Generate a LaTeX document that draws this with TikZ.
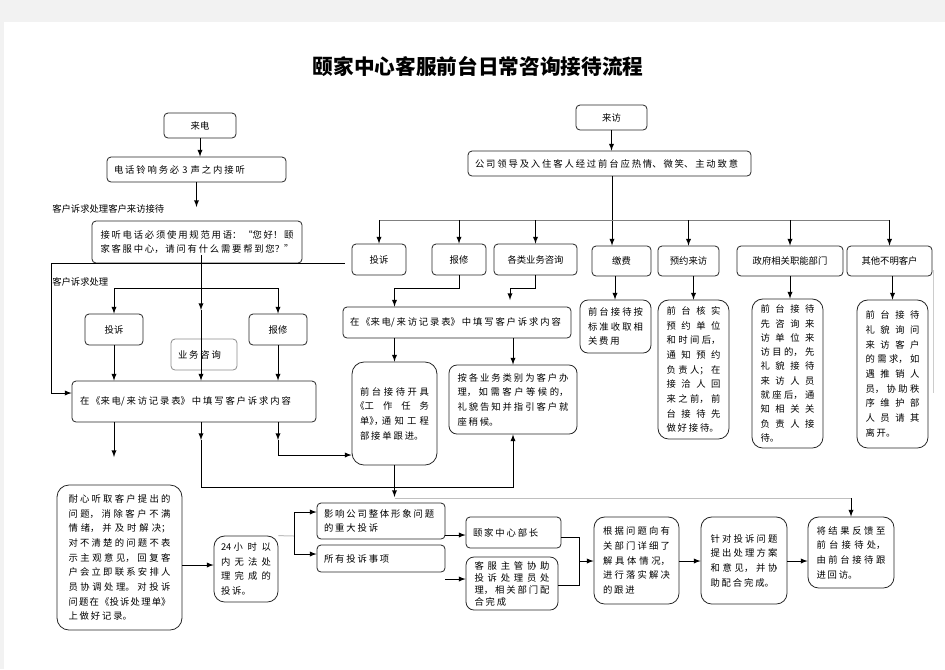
\documentclass[tikz,border=0pt]{standalone}
\usepackage{fontspec}
\setmainfont{Noto Sans CJK SC}
\XeTeXlinebreaklocale "zh"
\XeTeXlinebreakskip=1.4pt plus 20pt minus 0.7pt
\XeTeXlinebreakpenalty=10000

\begin{document}
\begin{tikzpicture}[x=0.75pt,y=-0.75pt,>=latex,
	box/.style={draw=black!85,line width=0.6pt,rounded corners=3pt,inner sep=0pt,font=\fontsize{7pt}{11pt}\selectfont},
	tall/.style={box,rounded corners=6pt,align=justify},
	wh/.style 2 args={minimum width=#1*0.75pt,minimum height=#2*0.75pt},
	tw/.code={\pgfmathsetlengthmacro\twlen{#1*0.75pt}\tikzset{text width/.expanded={\twlen}}},
	lbl/.style={inner sep=0pt,anchor=west,font=\fontsize{7pt}{11pt}\selectfont},
	conn/.style={line width=0.75pt}]
		\fill[black!5] (0,0) rectangle (945,669);
		\fill[white] (4,22) rectangle (945,669);
		\useasboundingbox (0,0) rectangle (945,669);

		\node[font=\bfseries\fontsize{15.5pt}{18pt}\selectfont] (title) at (478,66) {\XeTeXlinebreakskip=0pt 颐家中心客服前台日常咨询接待流程};

		\node[box,wh={72}{25}] (ld) at (200,125.5) {来电};
		\node[box,wh={179}{25},tw=165,align=left] (dh) at (196.5,169.5) {电话铃响务必 3 声之内接听};
		\node[lbl] (t1) at (52,209) {客户诉求处理客户来访接待};
		\node[box,wh={210}{42},tw=193,align=justify,font=\fontsize{7pt}{10pt}\selectfont] (jt) at (197,242) {\parfillskip=0pt 接听电话必须使用规范用语：“您好！颐\linebreak 家客服中心，请问有什么需要帮到您？”};
		\node[lbl] (t2) at (52,282) {客户诉求处理};
		\node[box,wh={58}{31}] (ts1) at (114,329.5) {投诉};
		\node[box,wh={58}{31}] (bx1) at (278,329.5) {报修};
		\node[box,draw=black!45,wh={66}{31},tw=52,align=left] (yw) at (204,354.5) {业务咨询};
		\node[box,wh={244}{41},tw=228,align=left] (jl1) at (194,401.5) {在《来电/来访记录表》中填写客户诉求内容};

		\node[tall,rounded corners=9pt,wh={125}{145},tw=102] (nx) at (119.5,557.5) {耐心听取客户提出的\linebreak 问题，消除客户不满\linebreak 情绪，并及时解决；\linebreak 对不清楚的问题不表\linebreak 示主观意见，回复客\linebreak 户会立即联系安排人\linebreak 员协调处理。对投诉\linebreak 问题在《投诉处理单》\linebreak 上做好记录。};
		\node[tall,rounded corners=8pt,wh={64}{66},tw=50] (h24) at (246,569) {24 小时以\linebreak 内无法处\linebreak 理完成的\linebreak 投诉。};
		\node[box,wh={128}{36},tw=114,align=left] (yx) at (381,521) {影响公司整体形象问题\\的重大投诉};
		\node[box,wh={128}{27},tw=114,align=left] (sy) at (381,558.5) {所有投诉事项};
		\node[box,wh={95}{31},tw=81,align=left] (bz) at (513.5,532.5) {颐家中心部长};
		\node[tall,wh={92}{53},tw=75,font=\fontsize{7pt}{9pt}\selectfont] (zg) at (512,583.5) {客服主管协助\linebreak 投诉处理员处\linebreak 理，相关部门配\linebreak 合完成};
		\node[tall,rounded corners=8pt,wh={85}{87},tw=67] (gj) at (636.5,560.5) {根据问题向有\linebreak 关部门详细了\linebreak 解具体情况，\linebreak 进行落实解决\linebreak 的跟进};
		\node[tall,rounded corners=8pt,wh={86}{87},tw=67] (zd) at (744,560.5) {针对投诉问题\linebreak 提出处理方案\linebreak 和意见，并协\linebreak 助配合完成。};
		\node[tall,rounded corners=8pt,wh={86}{71},tw=69] (jg) at (851,552.5) {将结果反馈至\linebreak 前台接待处，\linebreak 由前台接待跟\linebreak 进回访。};

		\node[box,wh={71}{25}] (lf) at (611.5,117.5) {来访};
		\node[box,wh={283}{25},tw=269,align=left] (gs) at (609.5,163.5) {公司领导及入住客人经过前台应热情、微笑、主动致意};
		\node[box,wh={54}{31}] (ts2) at (379,259.5) {投诉};
		\node[box,wh={54}{31}] (bx2) at (459,259.5) {报修};
		\node[box,wh={83}{31}] (gl) at (535.5,259.5) {各类业务咨询};
		\node[box,wh={59}{30}] (jf) at (621.5,261) {缴费};
		\node[box,wh={61}{30}] (yy) at (688.5,261) {预约来访};
		\node[box,wh={106}{30}] (zf) at (790,261) {政府相关职能部门};
		\node[box,wh={85}{30}] (qt) at (889.5,261) {其他不明客户};

		\node[box,wh={228}{31},tw=214,align=left] (jl2) at (457,322.5) {在《来电/来访记录表》中填写客户诉求内容};
		\node[tall,rounded corners=9pt,wh={85}{103},tw=69] (gd) at (394.5,413.5) {\addfontfeatures{RawFeature=+halt}前台接待开具\linebreak 《工作任务\linebreak 单》，通知工程\linebreak 部接单跟进。};
		\node[tall,wh={128}{69},tw=111] (ay) at (513,399.5) {按各业务类别为客户办\linebreak 理，如需客户等候的，\linebreak 礼貌告知并指引客户就\linebreak 座稍候。};
		\node[tall,wh={71}{53},tw=55] (kfA) at (615.5,326.5) {前台接待按\linebreak 标准收取相\linebreak 关费用};
		\node[tall,rounded corners=8pt,wh={71}{139},tw=54] (kfB) at (693.5,369.5) {前台核实\linebreak 预约单位\linebreak 和时间后，\linebreak 通知预约\linebreak 负责人；在\linebreak 接洽人回\linebreak 来之前，前\linebreak 台接待先\linebreak 做好接待。};
		\node[tall,rounded corners=8pt,wh={71}{149},tw=54,font=\fontsize{7pt}{10.7pt}\selectfont] (kfC) at (787.5,373.5) {前台接待\linebreak 先咨询来\linebreak 访单位来\linebreak 访目的，先\linebreak 礼貌接待\linebreak 来访人员\linebreak 就座后，通\linebreak 知相关关\linebreak 负责人接\linebreak 待。};
		\node[tall,rounded corners=8pt,wh={71}{148},tw=54] (kfD) at (892.5,374) {前台接待\linebreak 礼貌询问\linebreak 来访客户\linebreak 的需求，如\linebreak 遇推销人\linebreak 员，协助秩\linebreak 序维护部\linebreak 人员请其\linebreak 离开。};

		\draw[->,conn] (ld.south) -- (ld.south|-dh.north);
		\draw[->,conn] (dh.south) -- (dh.south|-0,207);
		\draw[conn] (51,263) -- (345,263);
		\draw[->,conn] (51,263) -- (51,393) -- (jl1.west|-0,393);
		\draw[->,conn] (201,255) -- (201,310);
		\draw[->,conn] (201,310) -- (201,0|-jl1.north);
		\draw[conn] (ts1.north|-0,288) -- (bx1.north|-0,288);
		\draw[->,conn] (ts1.north|-0,288) -- (ts1.north);
		\draw[->,conn] (bx1.north|-0,288) -- (bx1.north);
		\draw[->,conn] (ts1.south) -- (ts1.south|-jl1.north);
		\draw[->,conn] (bx1.south) -- (bx1.south|-jl1.north);
		\draw[->,conn] (ts1.south|-jl1.south) -- (ts1.south|-0,457);
		\draw[->,conn] (201,0|-jl1.south) -- (201,440);
		\draw[->,conn] (201,440) -- (201,487) -- (ay.south|-0,487) -- (ay.south);
		\draw[->,conn] (bx1.south|-jl1.south) -- (bx1.south|-0,440);
		\draw[->,conn] (bx1.south|-0,440) -- (bx1.south|-0,455) -- (gd.west|-0,455);

		\draw[->,conn] (lf.south) -- (lf.south|-gs.north);
		\draw[->,conn] (612,0|-gs.south) -- (612,0|-jf.north);
		\draw[conn,black!50] (ts2.north|-0,220) -- (qt.north|-0,220);
		\foreach \b in {ts2,bx2,gl,yy,zf,qt}
			\draw[->,conn] (\b.north|-0,220) -- (\b.north);
		\draw[->,conn] (615,0|-jf.south) -- (615,0|-kfA.north);
		\draw[->,conn] (kfB.north|-yy.south) -- (kfB.north);
		\draw[->,conn] (zf.south) -- (zf.south|-kfC.north);
		\draw[->,conn] (kfD.north|-qt.south) -- (kfD.north);
		\draw[->,conn] (bx2.south) -- (bx2.south|-0,288) -- (gd.north|-0,288) -- (gd.north|-jl2.north);
		\draw[->,conn] (gl.south) -- (gl.south|-0,288) -- (510,288) -- (510,300);
		\draw[->,conn] (gd.north|-jl2.south) -- (gd.north);
		\draw[->,conn] (ay.north|-jl2.south) -- (ay.north);
		\draw[->,conn] (gd.south) -- (gd.south|-0,497);
		\draw[conn,black!25] (gd.south|-0,498) -- (jg.north|-0,498);
		\draw[->,conn] (jg.north|-0,498) -- (jg.north);
		\draw[conn,black!20] (933,270) -- (933,393);

		\draw[->,conn] (nx.east|-0,565) -- (h24.west|-0,565);
		\draw[conn,black!25] (h24.north east) -- (294,536);
		\draw[->,conn] (294,536) -- (294,512) -- (yx.west|-0,512);
		\draw[->,conn] (294,536) -- (294,554) -- (sy.west|-0,554);
		\draw[->,conn] (yx.east|-0,535) -- (bz.west|-0,535);
		\draw[->,conn] (sy.east|-0,579) -- (zg.west|-0,579);
		\draw[conn] (bz.east|-0,537) -- (579,537) -- (579,585) -- (zg.east|-0,585);
		\draw[->,conn] (579,561) -- (gj.west|-0,561);
		\draw[->,conn] (gj.east|-0,561) -- (zd.west|-0,561);
		\draw[->,conn] (zd.east|-0,561) -- (jg.west|-0,561);
	\end{tikzpicture}
\end{document}
